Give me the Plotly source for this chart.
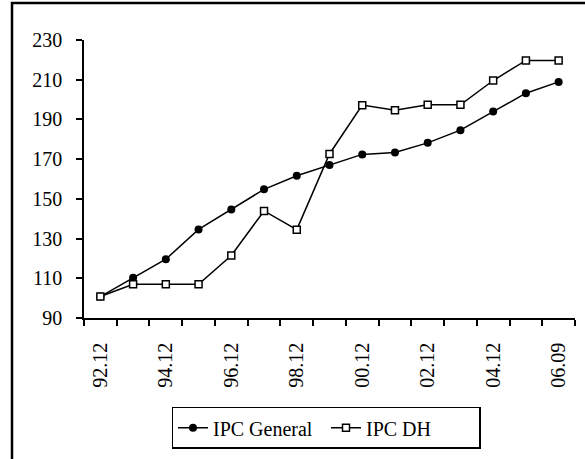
import plotly.graph_objects as go

categories = ["92.12", "93.12", "94.12", "95.12", "96.12", "97.12", "98.12", "99.12",
              "00.12", "01.12", "02.12", "03.12", "04.12", "05.12", "06.09"]
ipc_general = [100.8, 110.3, 119.6, 134.6, 144.6, 154.8, 161.6, 167.1,
               172.4, 173.4, 178.2, 184.6, 194.0, 203.2, 208.9]
ipc_dh = [100.8, 107.0, 107.0, 107.0, 121.5, 143.9, 134.5, 172.6,
          197.2, 194.6, 197.4, 197.4, 209.6, 219.7, 219.7]
tick_labels = [c if (i % 2 == 0) else "" for i, c in enumerate(categories)]

# invisible padding used to push tick labels away from the axis line
pad_x = '<span style="color:white">0.</span>'
pad_y = '<span style="color:white">..</span>'

W, H = 585, 459
ml, mr, mt, mb = 84, 10, 40, 134
pw, ph = W - ml - mr, H - mt - mb

fig = go.Figure()
fig.add_trace(go.Scatter(
    x=categories, y=ipc_general, name="IPC General", mode="lines+markers",
    line=dict(color="black", width=1.5),
    marker=dict(symbol="circle", size=8, color="black"),
))
fig.add_trace(go.Scatter(
    x=categories, y=ipc_dh, name="IPC DH", mode="lines+markers",
    line=dict(color="black", width=1.5),
    marker=dict(symbol="square", size=7, color="white", line=dict(color="black", width=1.5)),
))

font = dict(family="Liberation Serif", size=20, color="black")

fig.update_layout(
    width=W, height=H,
    margin=dict(l=ml, r=mr, t=mt, b=mb),
    paper_bgcolor="white", plot_bgcolor="white",
    font=font,
    showlegend=True,
    legend=dict(
        orientation="h", x=(326 - ml) / pw, xanchor="center",
        y=(mt + ph - 416) / ph, yanchor="top",
        bordercolor="black", borderwidth=1.5, bgcolor="white",
        font=font, itemwidth=30, entrywidth=108, entrywidthmode="pixels",
    ),
    xaxis=dict(
        type="category", range=[-0.5, len(categories) - 0.5],
        tickmode="array", tickvals=categories,
        ticktext=[t + pad_x if t else "" for t in tick_labels],
        tickson="boundaries", ticks="outside", ticklen=6, tickwidth=1.5, tickcolor="black",
        tickangle=-90, showline=True, linecolor="black", linewidth=1.5,
        showgrid=False, zeroline=False, tickfont=font, automargin=False,
    ),
    yaxis=dict(
        range=[90, 230], dtick=20, tick0=90, ticks="outside", ticklen=6, tickwidth=1.5,
        tickcolor="black", showline=True, linecolor="black", linewidth=1.5,
        showgrid=False, zeroline=False, tickfont=font, ticksuffix=pad_y, automargin=False,
    ),
    shapes=[dict(
        type="rect", xref="paper", yref="paper",
        x0=(12 - ml) / pw, x1=(W + 20 - ml) / pw,
        y0=(mt + ph - (H + 20)) / ph, y1=(mt + ph - 2) / ph,
        line=dict(color="black", width=2.5), fillcolor="rgba(0,0,0,0)", layer="below",
    )],
)

fig.write_html("out.html")
